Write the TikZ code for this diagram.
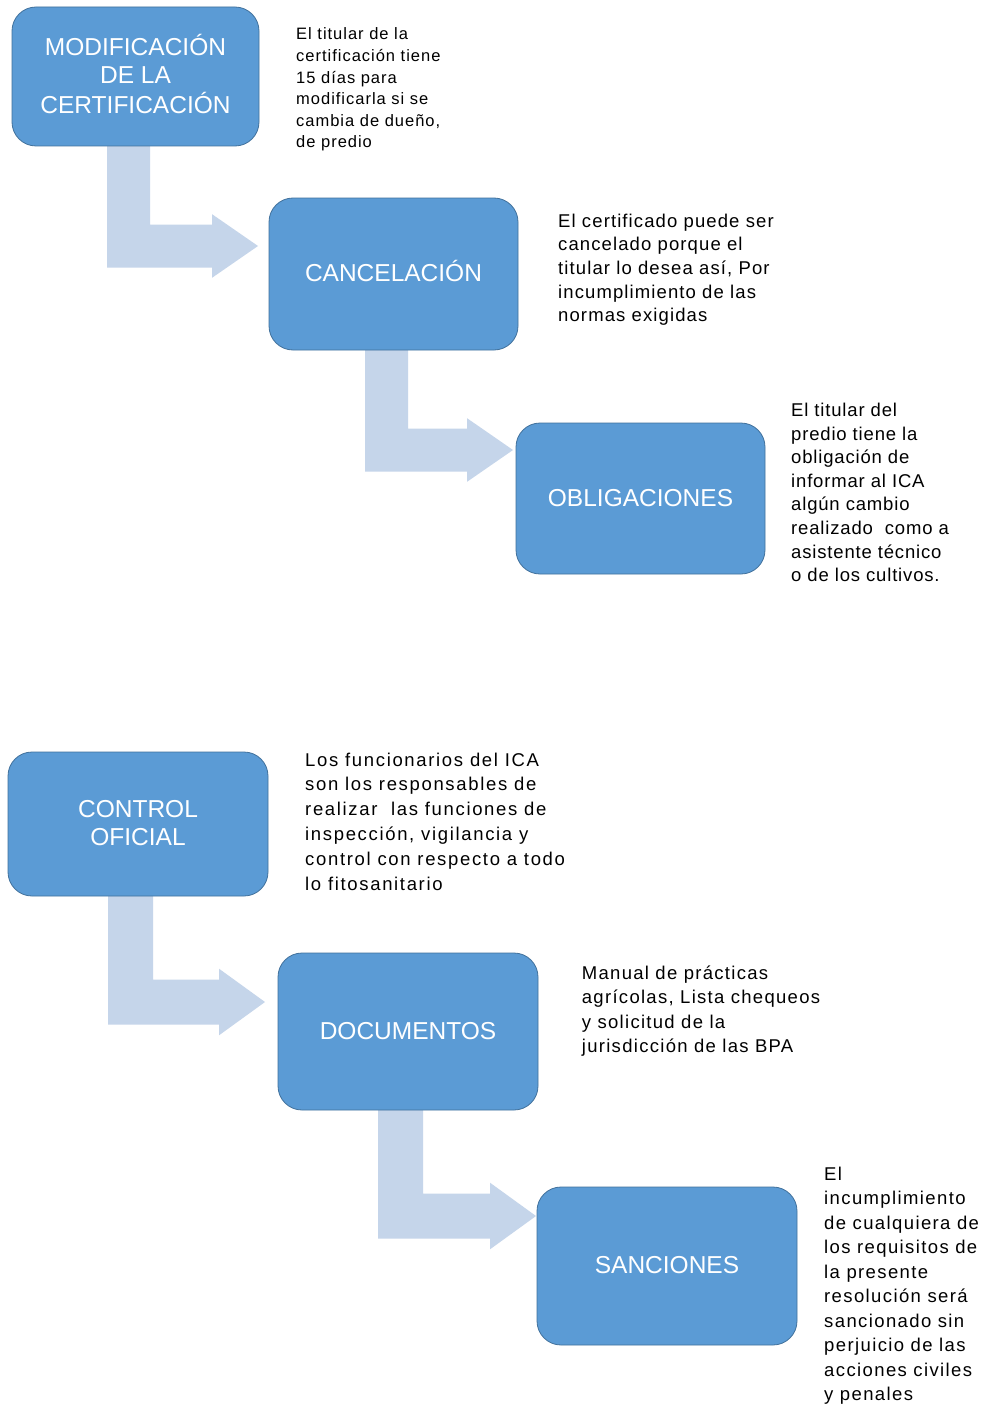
\documentclass[tikz,border=0pt]{standalone}
\usepackage{fontspec}
\setmainfont{Liberation Sans}
\newfontfamily\dA[LetterSpace=6]{Liberation Sans}
\newfontfamily\dB[LetterSpace=6]{Liberation Sans}
\newfontfamily\dC[LetterSpace=4.5]{Liberation Sans}
\newfontfamily\dD[LetterSpace=9]{Liberation Sans}
\newfontfamily\dE[LetterSpace=7]{Liberation Sans}
\newfontfamily\dF[LetterSpace=7.5]{Liberation Sans}
\usetikzlibrary{calc,backgrounds}
\definecolor{boxfill}{RGB}{91,155,213}
\definecolor{boxline}{RGB}{65,113,156}
\definecolor{arrfill}{RGB}{197,213,234}
\tikzset{
  stage/.style={rectangle, rounded corners=24pt, fill=boxfill, draw=boxline,
    line width=0.8pt, text=white, inner sep=0pt,
    font=\fontsize{24.5pt}{28.5pt}\selectfont},
  note/.style={anchor=base west, inner sep=0pt, text=black},
  arrowfill/.style={fill=arrfill}
}
\newcommand\lbl[1]{\begin{tabular}{@{}c@{}}\rule{0pt}{24pt}#1\end{tabular}}
% #1 source node, #2 tip coordinate, #3 bar left x, #4 bar width
\newcommand\bentarr[4]{%
  \fill[arrowfill] let \p1=(#1.south), \p2=(#2) in
    (#3pt,\y1+3pt) -- (#3pt,\y2-#4pt/2) -- (\x2-46pt,\y2-#4pt/2)
    -- (\x2-46pt,\y2-0.74*#4pt) -- (\x2,\y2) -- (\x2-46pt,\y2+0.74*#4pt)
    -- (\x2-46pt,\y2+#4pt/2) -- (#3pt+#4pt,\y2+#4pt/2) -- (#3pt+#4pt,\y1+3pt) -- cycle;}
\begin{document}
\begin{tikzpicture}[x=1pt,y=-1pt]
\useasboundingbox (0,0) rectangle (989,1407);

\node[stage, minimum width=247pt, minimum height=139pt] (mod) at (135.5,76.5) {\lbl{MODIFICACIÓN\\DE LA\\CERTIFICACIÓN}};
\node[stage, minimum width=249pt, minimum height=152pt] (can) at (393.5,274) {\lbl{CANCELACIÓN}};
\node[stage, minimum width=249pt, minimum height=151pt] (obl) at (640.5,498.5) {\lbl{OBLIGACIONES}};
\node[stage, minimum width=260pt, minimum height=144pt] (con) at (138,824) {\lbl{CONTROL\\OFICIAL}};
\node[stage, minimum width=260pt, minimum height=157pt] (doc) at (408,1031.5) {\lbl{DOCUMENTOS}};
\node[stage, minimum width=260pt, minimum height=158pt] (san) at (667,1266) {\lbl{SANCIONES}};

\coordinate (tip1) at (258,246);
\coordinate (tip2) at (513,450);
\coordinate (tip3) at (265,1002);
\coordinate (tip4) at (536,1216);

\begin{scope}[on background layer]
\fill[white] (0,0) rectangle (989,1407);
\bentarr{mod}{tip1}{107}{43}
\bentarr{can}{tip2}{365}{43}
\bentarr{con}{tip3}{108}{45}
\bentarr{doc}{tip4}{378}{45}
\end{scope}

\node[note] (n1) at (296,40) {\vtop{\dA\fontsize{16.5pt}{21.6pt}\selectfont
  \hbox{El titular de la}\hbox{certificación tiene}\hbox{15 días para}
  \hbox{modificarla si se}\hbox{cambia de dueño,}\hbox{de predio}}};
\node[note] (n2) at (558,227) {\vtop{\dB\fontsize{18.5pt}{23.7pt}\selectfont
  \hbox{El certificado puede ser}\hbox{cancelado porque el}
  \hbox{titular lo desea así, Por}\hbox{incumplimiento de las}\hbox{normas exigidas}}};
\node[note] (n3) at (791,416.7) {\vtop{\dC\fontsize{18.5pt}{23.57pt}\selectfont
  \hbox{El titular del}\hbox{predio tiene la}\hbox{obligación de}
  \hbox{informar al ICA}\hbox{algún cambio}\hbox{realizado\ \ como a}
  \hbox{asistente técnico}\hbox{o de los cultivos.}}};
\node[note] (n4) at (305,766) {\vtop{\dD\fontsize{18.5pt}{24.8pt}\selectfont
  \hbox{Los funcionarios del ICA}\hbox{son los responsables de}
  \hbox{realizar\ \ las funciones de}\hbox{inspección, vigilancia y}
  \hbox{control con respecto a todo}\hbox{lo fitosanitario}}};
\node[note] (n5) at (581.7,979.3) {\vtop{\dE\fontsize{18.5pt}{24.5pt}\selectfont
  \hbox{Manual de prácticas}\hbox{agrícolas, Lista chequeos}
  \hbox{y solicitud de la}\hbox{jurisdicción de las BPA}}};
\node[note] (n6) at (824,1180) {\vtop{\dF\fontsize{18.5pt}{24.5pt}\selectfont
  \hbox{El}\hbox{incumplimiento}\hbox{de cualquiera de}\hbox{los requisitos de}
  \hbox{la presente}\hbox{resolución será}\hbox{sancionado sin}
  \hbox{perjuicio de las}\hbox{acciones civiles}\hbox{y penales}}};
\end{tikzpicture}
\end{document}
